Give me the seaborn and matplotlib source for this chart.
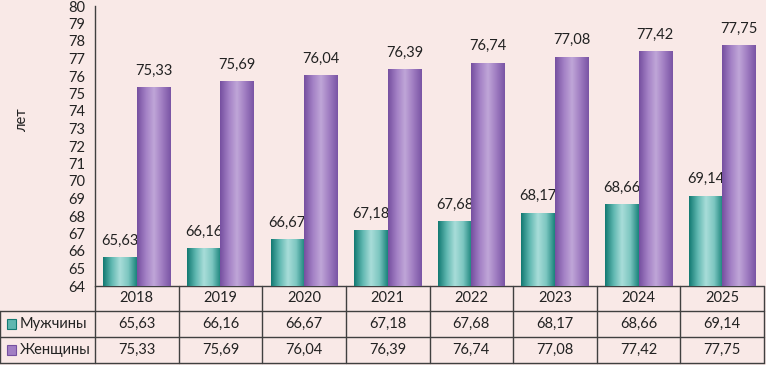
import numpy as np
import pandas as pd
import seaborn as sns
import matplotlib.pyplot as plt
from matplotlib.patches import Rectangle
from matplotlib.colors import LinearSegmentedColormap
from matplotlib.transforms import blended_transform_factory

years = ['2018', '2019', '2020', '2021', '2022', '2023', '2024', '2025']
men = [65.63, 66.16, 66.67, 67.18, 67.68, 68.17, 68.66, 69.14]
women = [75.33, 75.69, 76.04, 76.39, 76.74, 77.08, 77.42, 77.75]
series = ['Мужчины', 'Женщины']

bg = '#F9E9E7'
line_col = '#404040'
teal_cmap = LinearSegmentedColormap.from_list('teal', ['#137A73', '#5FB7B0', '#A9DDD9', '#7CC6C0', '#1B847C'])
purple_cmap = LinearSegmentedColormap.from_list('purple', ['#7650A0', '#A27FC4', '#C0A6D8', '#9F7CC1', '#7A55A5'])
cmaps = [teal_cmap, purple_cmap]

def fmt(v):
    return f'{v:.2f}'.replace('.', ',')

df = pd.DataFrame({
    'year': years * 2,
    'value': men + women,
    'sex': [series[0]] * len(years) + [series[1]] * len(years),
})

sns.set_style('white')
plt.rcParams['font.family'] = ['Lato', 'DejaVu Sans']

fig = plt.figure(figsize=(7.66, 3.65), dpi=100, facecolor=bg)
W, H = 766, 365
ax = fig.add_axes([95 / W, 1 - 286 / H, 669 / W, 280 / H], facecolor=bg)

sns.barplot(data=df, x='year', y='value', hue='sex', palette=['#5FB7B0', '#A27FC4'],
            width=0.8, ax=ax, legend=False, saturation=1)

grad = np.linspace(0, 1, 64).reshape(1, -1)
for i, p in enumerate(ax.patches[:16]):
    s = i // len(years)
    x0, w, h = p.get_x(), p.get_width(), p.get_height()
    ax.imshow(grad, cmap=cmaps[s], extent=[x0, x0 + w, 64, h], aspect='auto', zorder=3)
    p.set_visible(False)
    ax.annotate(fmt(h), (x0 + w / 2, h), xytext=(0, 7), textcoords='offset points',
                ha='center', va='bottom', fontsize=10.5, color='#222222')

ax.set_xlim(-0.5, len(years) - 0.5)
ax.set_ylim(64, 80)
ax.set_yticks(range(64, 81))
ax.tick_params(axis='y', length=4, width=1, color=line_col, labelsize=10.5, pad=3, labelcolor='#222222')
ax.tick_params(axis='x', bottom=False, labelbottom=False)
ax.set_xlabel('')
ax.set_ylabel('')
for side in ['top', 'right', 'bottom']:
    ax.spines[side].set_visible(False)
ax.spines['left'].set_color(line_col)
ax.spines['left'].set_linewidth(1)
fig.text(22 / W, 1 - 120 / H, 'лет', rotation=90, ha='center', va='center', fontsize=10.5, color='#222222')

# data table under the axis
tr = blended_transform_factory(ax.transData, ax.transAxes)
rows_y = [0, -25 / 280, -51 / 280, -77 / 280]
x_left = -0.5 - 95 / (669 / 8)
kw = dict(transform=tr, clip_on=False, color=line_col, lw=1)
ax.plot([-0.5, 7.5], [rows_y[0]] * 2, **kw)
for y in rows_y[1:]:
    ax.plot([x_left, 7.5], [y, y], **kw)
for k in range(9):
    ax.plot([k - 0.5, k - 0.5], [rows_y[0], rows_y[3]], **kw)
ax.plot([x_left, x_left], [rows_y[1], rows_y[3]], **kw)

for k, yr in enumerate(years):
    ax.text(k, (rows_y[0] + rows_y[1]) / 2, yr, transform=tr, ha='center', va='center',
            fontsize=10.5, color='#222222')
    ax.text(k, (rows_y[1] + rows_y[2]) / 2, fmt(men[k]), transform=tr, ha='center', va='center',
            fontsize=10.5, color='#222222')
    ax.text(k, (rows_y[2] + rows_y[3]) / 2, fmt(women[k]), transform=tr, ha='center', va='center',
            fontsize=10.5, color='#222222')

for s, name in enumerate(series):
    yc = (rows_y[s + 1] + rows_y[s + 2]) / 2
    ax.text(x_left + 20 / (669 / 8), yc, name, transform=tr, ha='left', va='center',
            fontsize=10.5, color='#222222')
    sq = Rectangle((7 / W, 0), 9 / W, 10 / H, transform=fig.transFigure,
                   facecolor=['#5FB7B0', '#A27FC4'][s], edgecolor=['#137A73', '#7650A0'][s], lw=0.8)
    yfig = 1 - (324 + s * 26) / H
    sq.set_y(yfig - 5 / H)
    fig.patches.append(sq)

fig.savefig('out.png', dpi=100, facecolor=bg)
